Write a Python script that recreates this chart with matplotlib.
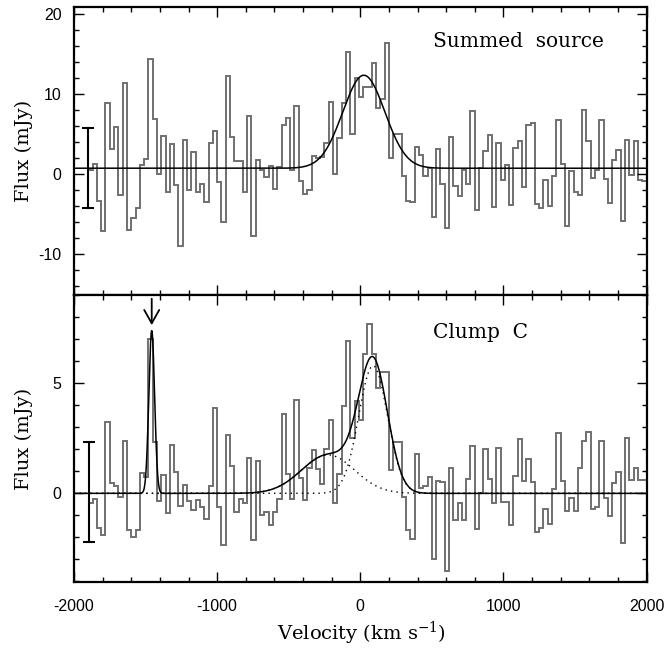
import numpy as np
import matplotlib
matplotlib.use("Agg")
import matplotlib.pyplot as plt
from matplotlib.ticker import MultipleLocator

# channel grid (km/s)
v_start = -1900
chan_width = 30

# summed source spectrum (mJy), one value per channel
summed_flux = [0.5, 1.2, -3.4, -7.1, 8.9, 3.1, 5.9, -2.6, 11.3, -7.0,
               -5.5, -4.2, 1.1, 1.9, 14.4, 6.8, 0.0, 4.7, -2.2, 3.7,
               -1.4, -9.0, 4.2, -2.0, 2.8, -2.2, -1.2, -3.5, 3.9, 5.4,
               -1.0, -6.0, 12.2, 4.6, 1.6, 1.6, -2.3, 7.2, -7.8, 1.8,
               0.5, -0.4, 1.0, -1.9, 0.9, 6.1, 7.0, 0.5, 8.5, -0.9,
               -2.5, -2.0, 2.2, 2.0, 2.1, 3.9, 9.0, 0.0, 4.5, 8.8,
               15.2, 5.0, 12.0, 9.6, 10.9, 10.8, 13.8, 8.2, 9.4, 16.4,
               2.0, 5.0, 5.0, -0.3, -3.4, -3.5, 3.4, 2.4, -0.3, 0.7,
               -5.4, 3.1, -1.2, -6.7, 4.6, -1.5, -2.7, 0.5, -1.2, 7.8,
               -4.5, 0.7, 2.9, 4.9, -4.1, 3.9, -0.8, 1.1, -3.9, 3.2,
               4.1, -1.6, 6.1, 6.4, -3.7, -4.3, -0.8, -4.0, -0.2, 6.7,
               1.3, -6.5, 0.4, -2.3, -2.6, 8.0, 4.1, -0.5, 0.5, 6.7,
               -0.6, -3.6, 1.8, 3.0, -5.9, 4.3, -0.1, 4.1, -0.7, -0.9]

# clump C spectrum (mJy)
clump_flux = [-0.45, -0.25, -1.58, -1.88, 3.23, 0.48, 0.33, -0.15, 2.37, -1.68,
              -2.0, -1.68, 0.93, 0.75, 7.03, 2.33, -0.35, 0.83, -0.87, 2.18,
              0.95, -0.57, 0.38, -0.35, -0.75, -0.3, -0.6, -1.16, 0.33, 3.9,
              -0.63, -2.36, 2.64, 1.23, -0.86, -0.26, -0.45, 1.62, -2.13, 1.46,
              -0.98, -0.83, -1.43, -0.83, -0.27, 3.6, 0.9, -0.26, 4.25, 0.68,
              -0.3, 1.15, 1.95, 1.1, 0.42, 2.0, 3.33, -0.45, 0.87, 3.98,
              6.94, 2.52, 4.2, 3.33, 6.35, 7.7, 6.35, 4.8, 5.5, 5.5,
              1.05, 2.34, 2.34, -0.15, -1.66, -2.08, 1.8, 0.23, 0.33, 0.75,
              -3.0, 0.56, 0.53, -3.55, 1.17, -1.2, -0.46, -1.2, 0.67, 2.16,
              -1.63, 0.02, 2.0, 0.65, -0.45, 2.06, -0.38, -0.38, -1.43, 0.78,
              2.45, 0.57, 1.58, 0.5, -1.77, -1.58, -0.72, -1.38, 0.18, 2.75,
              0.56, -0.8, -0.21, -0.8, 1.16, 2.37, 2.78, -0.7, -0.6, 2.36,
              -0.23, -1.05, 0.45, 0.95, -2.25, 2.52, 0.6, 1.16, 0.6, 0.6]

# gaussian fits: (amplitude, centre, sigma)
summed_base = 0.72
summed_fit = (11.6, 25, 147)
clump_broad = (1.75, -225, 185)
clump_main = (5.8, 90, 101)
clump_narrow = (7.4, -1457, 20)

# rms error bars: (velocity, centre, half length)
summed_err = (-1900, 0.75, 5.05)
clump_err = (-1895, 0.05, 2.27)

arrow_v = -1457


def gauss(v, p):
    a, c, s = p
    return a * np.exp(-0.5 * ((v - c) / s) ** 2)


edges = v_start + chan_width * np.arange(len(summed_flux) + 1)
vv = np.linspace(-2000, 2000, 4001)

serif = 'DejaVu Serif'
plt.rcParams['mathtext.fontset'] = 'dejavuserif'
plt.rcParams['font.family'] = 'Liberation Sans'
plt.rcParams['axes.unicode_minus'] = False
plt.rcParams['xtick.direction'] = 'in'
plt.rcParams['ytick.direction'] = 'in'
plt.rcParams['xtick.top'] = True
plt.rcParams['ytick.right'] = True

fig = plt.figure(figsize=(6.67, 6.52), dpi=100)
L, R = 74 / 667, 646.5 / 667
y_top, y_mid, y_bot = 1 - 6.5 / 652, 1 - 295 / 652, 1 - 582 / 652
ax1 = fig.add_axes([L, y_mid, R - L, y_top - y_mid])
ax2 = fig.add_axes([L, y_bot, R - L, y_mid - y_bot], sharex=ax1)

hist_col = '#707070'

# top panel
ax1.stairs(summed_flux, edges, baseline=None, color=hist_col, lw=1.4)
ax1.plot(vv, summed_base + gauss(vv, summed_fit), color='k', lw=1.1)
ax1.errorbar(summed_err[0], summed_err[1], yerr=summed_err[2], color='k',
             lw=1.5, capsize=4, capthick=1.5)
ax1.set_ylim(-15.1, 20.9)
ax1.yaxis.set_major_locator(MultipleLocator(10))
ax1.yaxis.set_minor_locator(MultipleLocator(2))
ax1.text(508, 15.9, 'Summed  source', family=serif, fontsize=14.5)
ax1.tick_params(labelbottom=False)

# bottom panel
broad = gauss(vv, clump_broad)
main = gauss(vv, clump_main)
narrow = gauss(vv, clump_narrow)
ax2.stairs(clump_flux, edges, baseline=None, color=hist_col, lw=1.4)
ax2.plot(vv, broad, color='k', lw=1.0, ls=(0, (1, 3)))
ax2.plot(vv, main, color='k', lw=1.0, ls=(0, (1, 3)))
ax2.plot(vv, broad + main + narrow, color='k', lw=1.1)
ax2.errorbar(clump_err[0], clump_err[1], yerr=clump_err[2], color='k',
             lw=1.5, capsize=4, capthick=1.5)
ax2.annotate('', xy=(arrow_v, 7.65), xytext=(arrow_v, 8.85),
             arrowprops=dict(arrowstyle='->,head_length=0.8,head_width=0.45',
                             lw=1.3, color='k', mutation_scale=12,
                             shrinkA=0, shrinkB=0))
ax2.set_ylim(-4.03, 9.02)
ax2.yaxis.set_major_locator(MultipleLocator(5))
ax2.yaxis.set_minor_locator(MultipleLocator(1))
ax2.text(508, 7.05, 'Clump  C', family=serif, fontsize=14.5)

ax2.set_xlim(-2000, 2000)
ax2.xaxis.set_major_locator(MultipleLocator(1000))
ax2.xaxis.set_minor_locator(MultipleLocator(200))

for ax in (ax1, ax2):
    for sp in ax.spines.values():
        sp.set_linewidth(1.6)
    ax.tick_params(which='major', length=7.5, width=1.0, labelsize=11.5)
    ax.tick_params(which='minor', length=3.8, width=1.0)
    ax.tick_params(axis='x', pad=12)
    ax.tick_params(axis='y', pad=9)
    ax.set_ylabel('Flux (mJy)', family=serif, fontsize=14)
    ax.yaxis.set_label_coords(-0.072, 0.5)

fig.text(361 / 667, 1 - 633 / 652, r'Velocity (km s$^{-1}$)', family=serif,
         fontsize=14, ha='center', va='center')

fig.savefig('out.png', dpi=100)
